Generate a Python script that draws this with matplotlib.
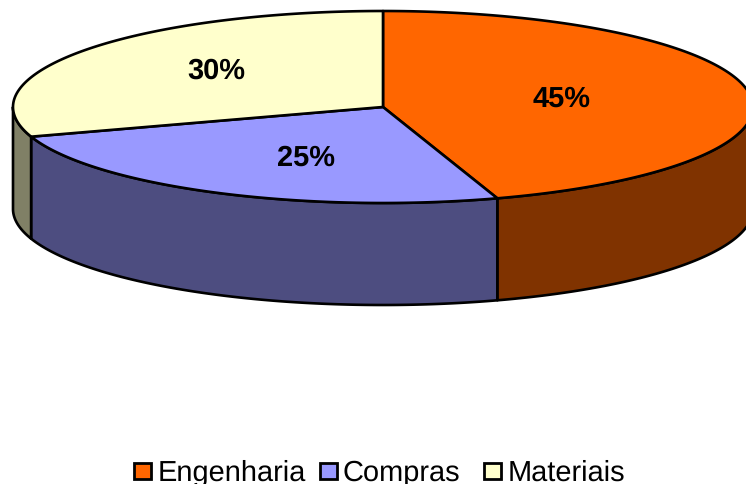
import numpy as np
import matplotlib
matplotlib.use("Agg")
import matplotlib.pyplot as plt
from matplotlib.patches import Polygon, Rectangle

categories = ["Engenharia", "Compras", "Materiais"]
shares = [45, 25, 30]
top_colors = ["#FF6600", "#9999FF", "#FFFFCC"]
side_colors = ["#803300", "#4D4D80", "#808066"]

W, H = 746, 484
CX, CY, RX, RY, DEPTH = 383.0, 107.0, 370.0, 96.0, 102.0
LW = 1.9

plt.rcParams["font.family"] = ["Liberation Sans", "DejaVu Sans"]
plt.rcParams["text.hinting"] = "no_hinting"
plt.rcParams["text.hinting_factor"] = 1
fig = plt.figure(figsize=(W / 100, H / 100), dpi=100)
ax = fig.add_axes([0, 0, 1, 1])
ax.set_xlim(0, W)
ax.set_ylim(H, 0)
ax.axis("off")


def rim(a0, a1, drop=0.0, n=200):
    """Points along the ellipse between two angles measured clockwise from the top."""
    t = np.radians(np.linspace(a0, a1, n))
    return np.column_stack([CX + RX * np.sin(t), CY - RY * np.cos(t) + drop])


edges = np.concatenate([[0], np.cumsum(shares)]) * 360.0 / sum(shares)

# Outer wall: only the front half of the rim (90 to 270 degrees) is visible
for i in range(len(shares)):
    a0, a1 = max(edges[i], 90.0), min(edges[i + 1], 270.0)
    if a1 <= a0:
        continue
    wall = np.vstack([rim(a0, a1), rim(a0, a1, DEPTH)[::-1]])
    ax.add_patch(Polygon(wall, closed=True, facecolor=side_colors[i],
                         edgecolor="black", linewidth=LW, joinstyle="round"))

# Top face of each slice
for i in range(len(shares)):
    top = np.vstack([[CX, CY], rim(edges[i], edges[i + 1])])
    ax.add_patch(Polygon(top, closed=True, facecolor=top_colors[i],
                         edgecolor="black", linewidth=LW, joinstyle="round"))

# Percentage labels on the slices
label_pos = [(561.5, 107), (306, 166), (216, 79)]
for value, (x, y) in zip(shares, label_pos):
    ax.text(x, y, f"{value}%", ha="center", va="baseline", fontsize=20.8,
            fontweight="bold", color="black")

# Legend along the bottom edge
legend_box_x = [134, 319.5, 484]
legend_text_x = [157.5, 343, 508]
for name, color, bx, tx in zip(categories, top_colors, legend_box_x, legend_text_x):
    ax.add_patch(Rectangle((bx, 463), 17, 16, facecolor=color, edgecolor="black",
                           linewidth=2.0))
    ax.text(tx, 480.5, name, ha="left", va="baseline", fontsize=21, color="black")

fig.savefig("out.png", dpi=100)
